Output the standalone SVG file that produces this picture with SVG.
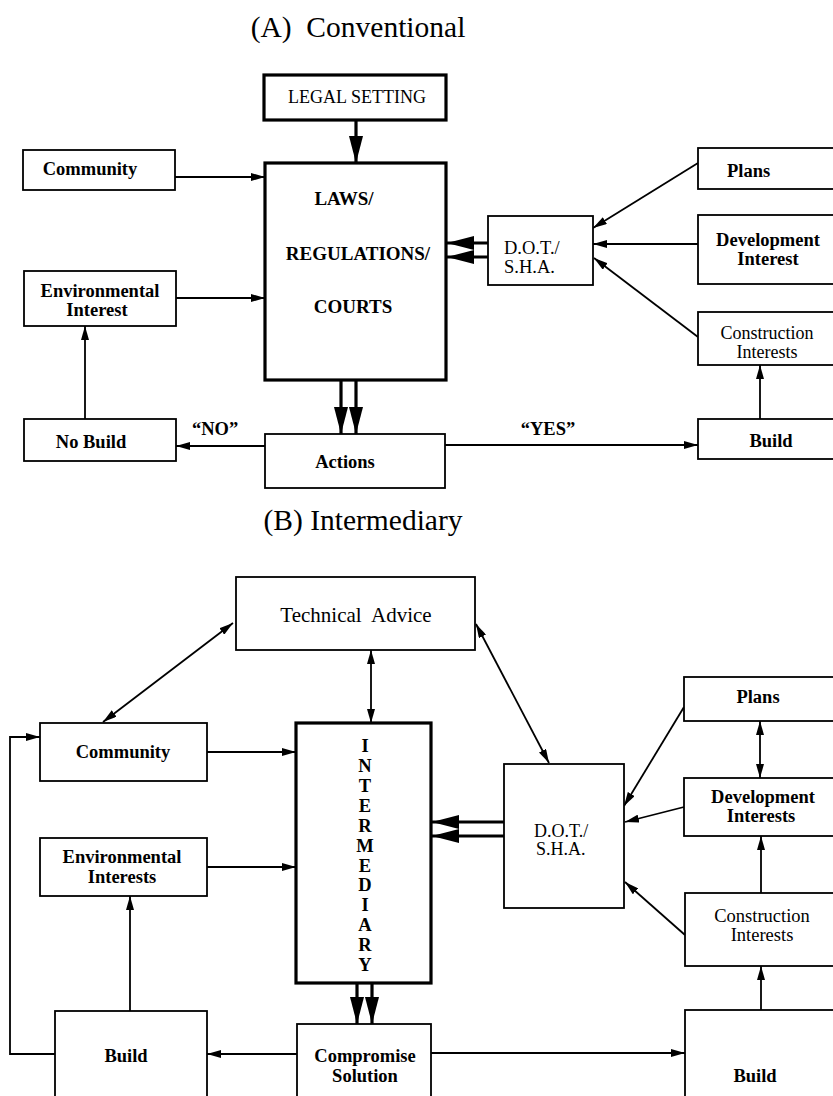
<svg xmlns="http://www.w3.org/2000/svg" width="833" height="1096" viewBox="0 0 833 1096">
<style>
text{font-family:"Liberation Serif","Times New Roman",serif;fill:#000}
.t{font-size:29.5px}
.b{font-weight:bold;font-size:18.5px}
.r{font-size:19px}
.m{text-anchor:middle}
.box{fill:#fff;stroke:#000;stroke-width:1.8}
.thick{fill:#fff;stroke:#000;stroke-width:3.2}
.ln{fill:none;stroke:#000;stroke-width:1.8}
.tk{fill:none;stroke:#000;stroke-width:3.2}
</style>
<defs>
<marker id="a" viewBox="0 0 14 8" refX="14" refY="4" markerWidth="14" markerHeight="8" markerUnits="userSpaceOnUse" orient="auto-start-reverse"><path d="M0,0 L14,4 L0,8 z"/></marker>
<marker id="bg" viewBox="0 0 27 14" refX="27" refY="7" markerWidth="27" markerHeight="14" markerUnits="userSpaceOnUse" orient="auto"><path d="M0,0 L27,7 L0,14 z"/></marker>
</defs>
<rect width="833" height="1096" fill="#fff"/>

<text class="t m" x="358" y="37" xml:space="preserve">(A)  Conventional</text>
<text class="t m" x="363" y="530">(B) Intermediary</text>

<g id="connectors">
<!-- Panel A -->
<line class="tk" x1="356" y1="120" x2="356" y2="163" marker-end="url(#bg)"/>
<line class="ln" x1="175" y1="177" x2="265" y2="177" marker-end="url(#a)"/>
<line class="ln" x1="176" y1="298" x2="265" y2="298" marker-end="url(#a)"/>
<line class="ln" x1="85" y1="419" x2="85" y2="326" marker-end="url(#a)"/>
<line class="ln" x1="265" y1="446" x2="176" y2="446" marker-end="url(#a)"/>
<line class="tk" x1="341" y1="380" x2="341" y2="434" marker-end="url(#bg)"/>
<line class="tk" x1="356" y1="380" x2="356" y2="434" marker-end="url(#bg)"/>
<line class="ln" x1="445" y1="445" x2="698" y2="445" marker-end="url(#a)"/>
<line class="ln" x1="760" y1="419" x2="760" y2="365" marker-end="url(#a)"/>
<line class="ln" x1="698" y1="163" x2="593" y2="228" marker-end="url(#a)"/>
<line class="ln" x1="698" y1="244" x2="593" y2="244" marker-end="url(#a)"/>
<line class="ln" x1="698" y1="337" x2="594" y2="258" marker-end="url(#a)"/>
<line class="tk" x1="488" y1="243" x2="447" y2="243" marker-end="url(#bg)"/>
<line class="tk" x1="488" y1="257" x2="447" y2="257" marker-end="url(#bg)"/>
<!-- Panel B -->
<line class="ln" x1="103" y1="722" x2="233" y2="623" marker-start="url(#a)" marker-end="url(#a)"/>
<line class="ln" x1="371" y1="650" x2="371" y2="723" marker-start="url(#a)" marker-end="url(#a)"/>
<line class="ln" x1="476" y1="624" x2="549" y2="763" marker-start="url(#a)" marker-end="url(#a)"/>
<line class="ln" x1="207" y1="752" x2="296" y2="752" marker-end="url(#a)"/>
<line class="ln" x1="207" y1="867" x2="296" y2="867" marker-end="url(#a)"/>
<polyline class="ln" points="55,1054 10,1054 10,737 40,737" marker-end="url(#a)"/>
<line class="ln" x1="130" y1="1011" x2="130" y2="896" marker-end="url(#a)"/>
<line class="ln" x1="297" y1="1054" x2="207" y2="1054" marker-end="url(#a)"/>
<line class="tk" x1="357" y1="983" x2="357" y2="1024" marker-end="url(#bg)"/>
<line class="tk" x1="372" y1="983" x2="372" y2="1024" marker-end="url(#bg)"/>
<line class="ln" x1="431" y1="1053" x2="685" y2="1053" marker-end="url(#a)"/>
<line class="ln" x1="761" y1="1010" x2="761" y2="966" marker-end="url(#a)"/>
<line class="ln" x1="761" y1="893" x2="761" y2="836" marker-end="url(#a)"/>
<line class="ln" x1="760" y1="721" x2="760" y2="778" marker-start="url(#a)" marker-end="url(#a)"/>
<line class="ln" x1="684" y1="707" x2="624" y2="806" marker-end="url(#a)"/>
<line class="ln" x1="684" y1="807" x2="625" y2="822" marker-end="url(#a)"/>
<line class="ln" x1="685" y1="935" x2="625" y2="882" marker-end="url(#a)"/>
<line class="tk" x1="504" y1="822" x2="432" y2="822" marker-end="url(#bg)"/>
<line class="tk" x1="504" y1="836" x2="432" y2="836" marker-end="url(#bg)"/>
</g>

<!-- Panel A nodes -->
<g id="legal-setting">
<rect class="thick" x="264" y="75" width="182" height="45"/>
<text class="m" x="357" y="103" style="font-size:18px">LEGAL SETTING</text>
</g>
<g id="laws">
<rect class="thick" x="265" y="163" width="181" height="217"/>
<text class="b m" x="344" y="205" style="font-size:19px">LAWS/</text>
<text class="b m" x="358" y="260" style="font-size:19px">REGULATIONS/</text>
<text class="b m" x="353" y="313" style="font-size:19px">COURTS</text>
</g>
<g id="community-a">
<rect class="box" x="23" y="150" width="152" height="40"/>
<text class="b m" x="90" y="175">Community</text>
</g>
<g id="env-a">
<rect class="box" x="24" y="271" width="152" height="55"/>
<text class="b m" x="100" y="297">Environmental</text>
<text class="b m" x="97" y="316">Interest</text>
</g>
<g id="nobuild-a">
<rect class="box" x="24" y="419" width="152" height="42"/>
<text class="b m" x="91" y="448">No Build</text>
</g>
<g id="actions-a">
<rect class="box" x="265" y="434" width="180" height="54"/>
<text class="b m" x="345" y="468">Actions</text>
</g>
<text class="b m" x="215" y="435">“NO”</text>
<text class="b m" x="548" y="435">“YES”</text>
<g id="dot-a">
<rect class="box" x="488" y="216" width="105" height="69"/>
<text x="504" y="254" style="font-size:18.5px">D.O.T./</text>
<text x="504" y="273" style="font-size:18.5px">S.H.A.</text>
</g>
<g id="plans-a">
<rect class="box" x="698" y="148" width="142" height="41"/>
<text class="b" x="727" y="177">Plans</text>
</g>
<g id="dev-a">
<rect class="box" x="698" y="215" width="142" height="69"/>
<text class="b m" x="768" y="246">Development</text>
<text class="b m" x="768" y="265">Interest</text>
</g>
<g id="const-a">
<rect class="box" x="698" y="312" width="142" height="53"/>
<text class="m" x="767" y="339" style="font-size:18px">Construction</text>
<text class="m" x="767" y="358" style="font-size:18px">Interests</text>
</g>
<g id="build-a">
<rect class="box" x="698" y="419" width="142" height="40"/>
<text class="b m" x="771" y="447">Build</text>
</g>

<!-- Panel B nodes -->
<g id="tech">
<rect class="box" x="236" y="577" width="239" height="73"/>
<text class="m" x="356" y="622" style="font-size:21px" xml:space="preserve">Technical  Advice</text>
</g>
<g id="community-b">
<rect class="box" x="40" y="723" width="167" height="58"/>
<text class="b m" x="123" y="758">Community</text>
</g>
<g id="intermediary">
<rect class="thick" x="296" y="723" width="135" height="260"/>
<g style="font-size:19px">
<text class="b m" x="365" y="752">I</text>
<text class="b m" x="365" y="772">N</text>
<text class="b m" x="365" y="792">T</text>
<text class="b m" x="365" y="812">E</text>
<text class="b m" x="365" y="832">R</text>
<text class="b m" x="365" y="852">M</text>
<text class="b m" x="365" y="872">E</text>
<text class="b m" x="365" y="891">D</text>
<text class="b m" x="365" y="911">I</text>
<text class="b m" x="365" y="931">A</text>
<text class="b m" x="365" y="951">R</text>
<text class="b m" x="365" y="971">Y</text>
</g>
</g>
<g id="env-b">
<rect class="box" x="40" y="838" width="167" height="58"/>
<text class="b m" x="122" y="863">Environmental</text>
<text class="b m" x="122" y="883">Interests</text>
</g>
<g id="build-left-b">
<rect class="box" x="55" y="1011" width="152" height="95"/>
<text class="b m" x="126" y="1062">Build</text>
</g>
<g id="compromise">
<rect class="box" x="297" y="1024" width="134" height="82"/>
<text class="b m" x="365" y="1062">Compromise</text>
<text class="b m" x="365" y="1082">Solution</text>
</g>
<g id="dot-b">
<rect class="box" x="504" y="764" width="120" height="144"/>
<text x="534" y="837" style="font-size:18px">D.O.T./</text>
<text x="536" y="855" style="font-size:18px">S.H.A.</text>
</g>
<g id="plans-b">
<rect class="box" x="684" y="677" width="156" height="44"/>
<text class="b m" x="758" y="703">Plans</text>
</g>
<g id="dev-b">
<rect class="box" x="684" y="778" width="156" height="58"/>
<text class="b m" x="763" y="803">Development</text>
<text class="b m" x="761" y="822">Interests</text>
</g>
<g id="const-b">
<rect class="box" x="685" y="893" width="155" height="73"/>
<text class="m" x="762" y="922" style="font-size:18.5px">Construction</text>
<text class="m" x="762" y="941" style="font-size:18.5px">Interests</text>
</g>
<g id="build-right-b">
<rect class="box" x="685" y="1010" width="155" height="96"/>
<text class="b m" x="755" y="1082">Build</text>
</g>
</svg>
